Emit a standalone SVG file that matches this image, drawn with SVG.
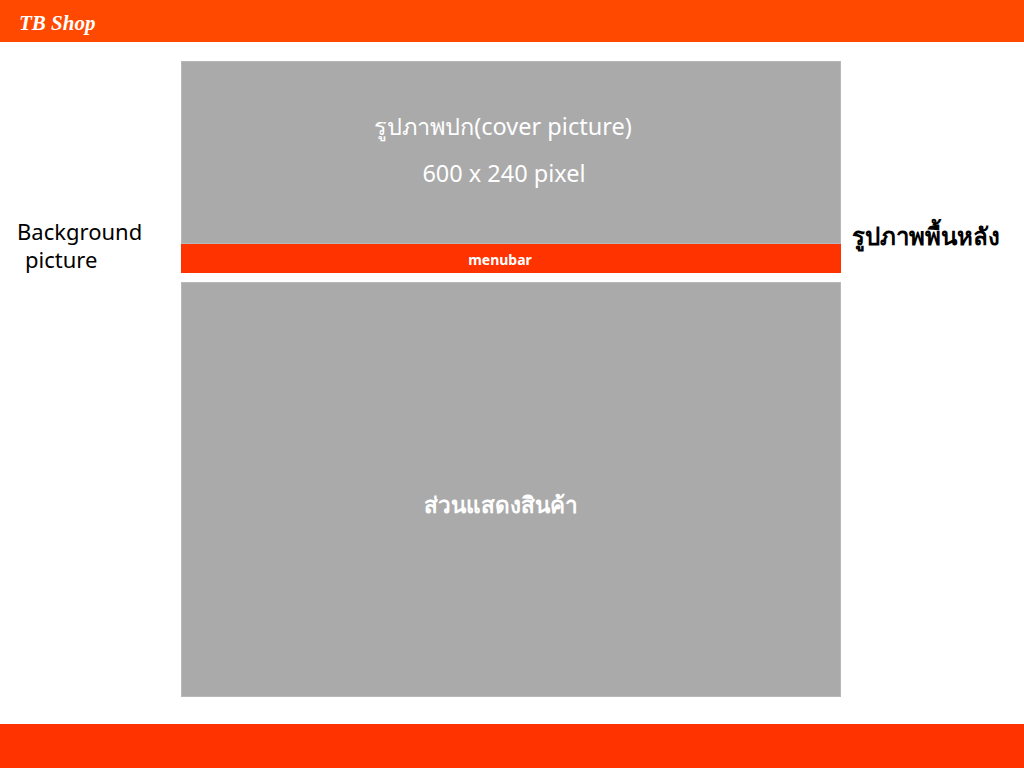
<svg xmlns="http://www.w3.org/2000/svg" width="1024" height="768" viewBox="0 0 1024 768">
<style>
.box{fill:#aaaaaa;stroke:#b8b8b8;stroke-width:1}
.bar{fill:#ff3300}
.w{fill:#ffffff;font-family:"Noto Sans","DejaVu Sans",sans-serif}
.k{fill:#000000;font-family:"Noto Sans","DejaVu Sans",sans-serif}
</style>
<rect x="0" y="0" width="1024" height="768" fill="#ffffff"/>
<g id="header">
<rect x="0" y="0" width="1024" height="42" fill="#ff4800"/>
<text x="19" y="30" class="w" style="font-family:'Liberation Serif',serif;font-style:italic;font-weight:bold" font-size="21">TB Shop</text>
</g>
<g id="cover">
<rect class="box" x="181.500" y="61.500" width="659" height="182"/>
<text x="503" y="135" class="w" font-size="23.500" text-anchor="middle">รูปภาพปก(cover picture)</text>
<text x="504" y="182" class="w" font-size="23.500" text-anchor="middle">600 x 240 pixel</text>
</g>
<g id="menubar">
<rect class="bar" x="181" y="244" width="660" height="29"/>
<text x="500" y="265" class="w" font-size="14" font-weight="bold" text-anchor="middle">menubar</text>
</g>
<g id="content">
<rect class="box" x="181.500" y="282.500" width="659" height="414"/>
<text x="501" y="513" class="w" font-size="22.500" font-weight="bold" text-anchor="middle">ส่วนแสดงสินค้า</text>
</g>
<g id="bg-left">
<text x="17" y="240" class="k" font-size="22">Background</text>
<text x="25" y="268" class="k" font-size="22">picture</text>
</g>
<g id="bg-right">
<text x="852" y="245" class="k" font-size="24" font-weight="bold">รูปภาพพื้นหลัง</text>
</g>
<g id="footer">
<rect class="bar" x="0" y="724" width="1024" height="44"/>
</g>
<g id="connectors"/>
</svg>
